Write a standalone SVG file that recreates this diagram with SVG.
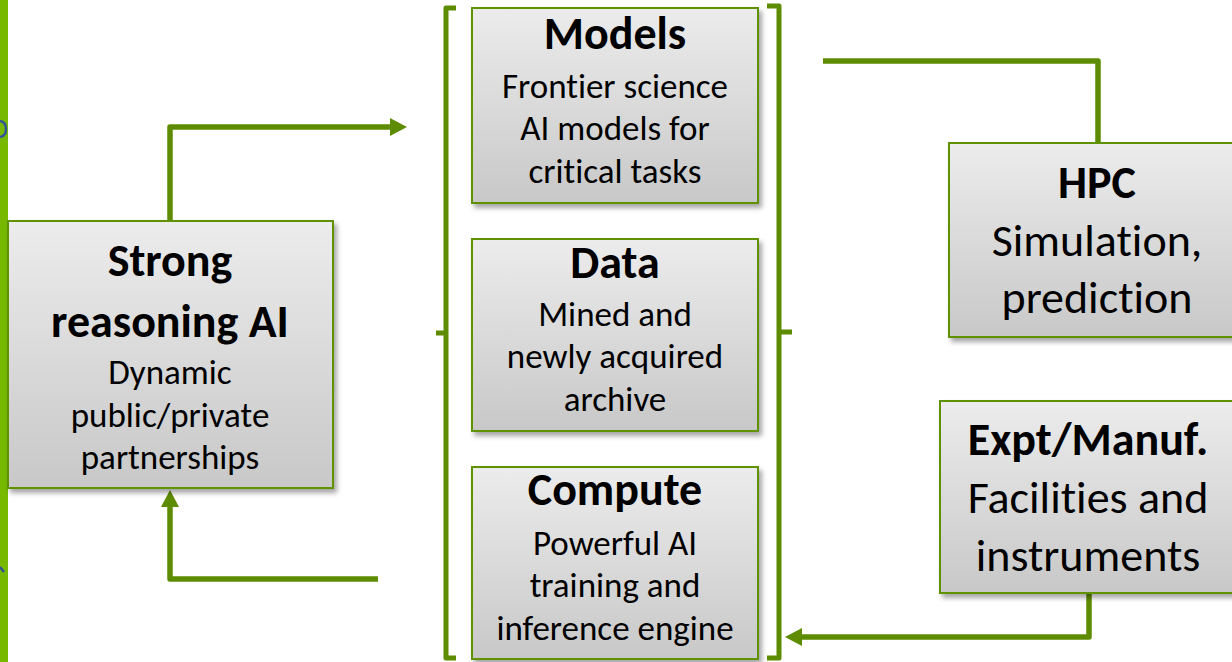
<svg xmlns="http://www.w3.org/2000/svg" width="1232" height="662" viewBox="0 0 1232 662">
  <defs>
    <linearGradient id="boxFill" x1="0" y1="0" x2="0" y2="1">
      <stop offset="0" stop-color="#ececec"/>
      <stop offset="1" stop-color="#c8c8c8"/>
    </linearGradient>
    <filter id="shadow" x="-10%" y="-10%" width="125%" height="130%">
      <feDropShadow dx="3" dy="4" stdDeviation="2.5" flood-color="#000" flood-opacity="0.35"/>
    </filter>
    <!-- arrowhead starts where the line stops -->
    <marker id="arrow" viewBox="0 0 17 18" refX="0" refY="9" markerWidth="17" markerHeight="18" orient="auto" markerUnits="userSpaceOnUse">
      <path d="M0,0 L17,9 L0,18 Z" fill="#5e8c00"/>
    </marker>
    <style>
      text { font-family: Carlito, Lato, "Liberation Sans", sans-serif; fill: #000; text-anchor: middle; font-variant-ligatures: none; }
      .box { fill: url(#boxFill); stroke: #5f9100; stroke-width: 2; filter: url(#shadow); }
      .title { font-weight: bold; font-size: 46px; }
      .body { font-size: 35px; }
      .big { font-size: 46px; }
      .link { fill: none; stroke: #5e8c00; stroke-width: 5.5; stroke-linejoin: round; }
      .bracket { fill: none; stroke: #5e8c00; stroke-width: 5; stroke-linejoin: round; stroke-linecap: butt; }
    </style>
  </defs>

  <rect width="1232" height="662" fill="#ffffff"/>

  <!-- side accent bar -->
  <rect x="0" y="0" width="8" height="662" fill="#76b900"/>
  <path d="M0,121 Q6,122 6,129 Q6,136 0,137" fill="none" stroke="#2f5597" stroke-width="2.5"/>
  <path d="M0,567 L4,572" fill="none" stroke="#2f5597" stroke-width="2.5"/>

  <!-- connectors -->
  <g id="connectors">
    <path class="link" d="M170,221 L170,127 L390,127" marker-end="url(#arrow)"/>
    <path class="link" d="M378,579 L170,579 L170,507" marker-end="url(#arrow)"/>
    <path class="link" d="M823,61 L1098,61 L1098,143"/>
    <path class="link" d="M1089,593 L1089,637 L802,637" marker-end="url(#arrow)"/>
  </g>

  <!-- grouping brackets around the three core boxes -->
  <g id="brackets">
    <path class="bracket" d="M456,8 L446,8 L446,658 L456,658 M446,333 L436,333"/>
    <path class="bracket" d="M767,6 L779,6 L779,658 L767,658 M779,332 L792,332"/>
  </g>

  <g id="strong-reasoning">
    <rect class="box" x="8" y="221" width="325" height="267"/>
    <text class="title" x="170" y="276">Strong</text>
    <text class="title" x="170" y="337">reasoning AI</text>
    <text class="body" x="170" y="384">Dynamic</text>
    <text class="body" x="170" y="427">public/private</text>
    <text class="body" x="170" y="469">partnerships</text>
  </g>

  <g id="models">
    <rect class="box" x="472" y="8" width="286" height="195"/>
    <text class="title" x="615" y="49">Models</text>
    <text class="body" x="615" y="98">Frontier science</text>
    <text class="body" x="615" y="140">AI models for</text>
    <text class="body" x="615" y="183">critical tasks</text>
  </g>

  <g id="data">
    <rect class="box" x="472" y="239" width="286" height="192"/>
    <text class="title" x="615" y="278">Data</text>
    <text class="body" x="615" y="326">Mined and</text>
    <text class="body" x="615" y="368">newly acquired</text>
    <text class="body" x="615" y="411">archive</text>
  </g>

  <g id="compute">
    <rect class="box" x="472" y="467" width="286" height="192"/>
    <text class="title" x="615" y="505">Compute</text>
    <text class="body" x="615" y="555">Powerful AI</text>
    <text class="body" x="615" y="597">training and</text>
    <text class="body" x="615" y="640">inference engine</text>
  </g>

  <g id="hpc">
    <rect class="box" x="949" y="143" width="300" height="194"/>
    <text class="title" x="1097" y="198">HPC</text>
    <text class="big" x="1097" y="256">Simulation,</text>
    <text class="big" x="1097" y="313">prediction</text>
  </g>

  <g id="expt-manuf">
    <rect class="box" x="940" y="401" width="310" height="192"/>
    <text class="title" x="1088" y="455">Expt/Manuf.</text>
    <text class="big" x="1088" y="513">Facilities and</text>
    <text class="big" x="1088" y="571">instruments</text>
  </g>
</svg>
